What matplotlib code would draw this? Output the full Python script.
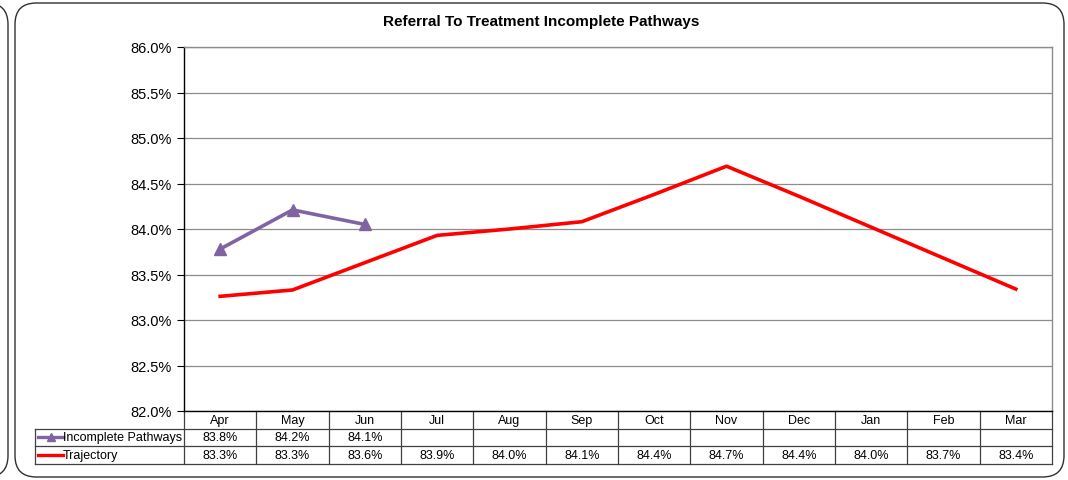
import matplotlib
matplotlib.use("Agg")
import matplotlib.pyplot as plt
from matplotlib.patches import FancyBboxPatch
from matplotlib.lines import Line2D
import matplotlib.transforms as mtransforms

months = ["Apr", "May", "Jun", "Jul", "Aug", "Sep", "Oct", "Nov", "Dec", "Jan", "Feb", "Mar"]
incomplete = [83.78, 84.21, 84.05]
trajectory = [83.26, 83.33, 83.63, 83.93, 84.00, 84.08, 84.38, 84.69, 84.36, 84.02, 83.68, 83.34]
incomplete_labels = ["83.8%", "84.2%", "84.1%"]
trajectory_labels = ["83.3%", "83.3%", "83.6%", "83.9%", "84.0%", "84.1%", "84.4%", "84.7%", "84.4%", "84.0%", "83.7%", "83.4%"]
yticks = [82.0, 82.5, 83.0, 83.5, 84.0, 84.5, 85.0, 85.5, 86.0]

plt.rcParams['font.family'] = ['Liberation Sans', 'DejaVu Sans']

W, H = 1068, 481
fig = plt.figure(figsize=(W / 100, H / 100), dpi=100)

def px_box(x0, y0, x1, y1):
    return (x0 / W, 1 - y1 / H, (x1 - x0) / W, (y1 - y0) / H)

bx = px_box(15, 4, 1064, 478)
fig.patches.append(FancyBboxPatch((bx[0], bx[1]), bx[2], bx[3],
                                  boxstyle="round,pad=0,rounding_size=0.02",
                                  transform=fig.transFigure, fill=False,
                                  ec="#303030", lw=1.0, mutation_aspect=W / H))
bx2 = px_box(-60, 4, 8, 478)
fig.patches.append(FancyBboxPatch((bx2[0], bx2[1]), bx2[2], bx2[3],
                                  boxstyle="round,pad=0,rounding_size=0.02",
                                  transform=fig.transFigure, fill=False,
                                  ec="#303030", lw=1.0, mutation_aspect=W / H))

ax_l, ax_r, ax_t, ax_b = 184, 1052, 48, 412
ax = fig.add_axes([ax_l / W, 1 - ax_b / H, (ax_r - ax_l) / W, (ax_b - ax_t) / H])

x = list(range(len(months)))
ax.plot(x, trajectory, color="#FF0000", lw=2.6, zorder=3)
ax.plot(x[:len(incomplete)], incomplete, color="#8064A2", lw=2.6, marker="^",
        markersize=9, zorder=4)

ax.set_xlim(-0.5, len(months) - 0.5)
ax.set_ylim(82.0, 86.0)
ax.set_yticks(yticks)
ax.set_yticklabels([f"{v:.1f}%" for v in yticks], fontsize=10.5)
ax.set_xticks([])
ax.yaxis.grid(True, color="#8C8C8C", lw=0.9)
ax.set_axisbelow(True)
ax.tick_params(axis="y", length=5, width=0.8, pad=4, direction="out")
for s in ["left", "bottom"]:
    ax.spines[s].set_color("black")
    ax.spines[s].set_linewidth(1.0)
for s in ["top", "right"]:
    ax.spines[s].set_color("#8C8C8C")
    ax.spines[s].set_linewidth(1.0)

fig.text(541 / W, 1 - 22 / H, "Referral To Treatment Incomplete Pathways",
         ha="center", va="center", fontsize=11, fontweight="bold")

rowh = 17.5 / (ax_b - ax_t)
trans = mtransforms.blended_transform_factory(ax.transData, ax.transAxes)
left_edge = (35 - ax_l) / (ax_r - ax_l)
lc = "#404040"
lkw = dict(color=lc, lw=0.9, clip_on=False)
fs = 9

for i, m in enumerate(months):
    ax.text(i, -rowh / 2, m, transform=trans, ha="center", va="center", fontsize=fs)
for k in range(1, 4):
    y = -rowh * k
    ax.add_line(Line2D([left_edge, 1], [y, y], transform=ax.transAxes, **lkw))
for i in range(len(months) + 1):
    xv = i - 0.5
    ax.add_line(Line2D([xv, xv], [0, -3 * rowh], transform=trans, **lkw))
ax.add_line(Line2D([left_edge, left_edge], [-rowh, -3 * rowh], transform=ax.transAxes, **lkw))

for i, lab in enumerate(incomplete_labels):
    ax.text(i, -1.5 * rowh, lab, transform=trans, ha="center", va="center", fontsize=fs)
for i, lab in enumerate(trajectory_labels):
    ax.text(i, -2.5 * rowh, lab, transform=trans, ha="center", va="center", fontsize=fs)

kx0 = (38 - ax_l) / (ax_r - ax_l)
kx1 = (63 - ax_l) / (ax_r - ax_l)
ax.add_line(Line2D([kx0, kx1], [-1.5 * rowh] * 2, transform=ax.transAxes, color="#8064A2",
                   lw=2.4, clip_on=False))
ax.add_line(Line2D([(kx0 + kx1) / 2], [-1.5 * rowh], transform=ax.transAxes, color="#8064A2",
                   marker="^", markersize=6, lw=0, clip_on=False))
ax.add_line(Line2D([kx0, kx1], [-2.5 * rowh] * 2, transform=ax.transAxes, color="#FF0000",
                   lw=2.4, clip_on=False))
ax.text(kx1, -1.5 * rowh, "Incomplete Pathways", transform=ax.transAxes, ha="left",
        va="center", fontsize=fs)
ax.text(kx1, -2.5 * rowh, "Trajectory", transform=ax.transAxes, ha="left",
        va="center", fontsize=fs)

fig.savefig("out.png", dpi=100)
